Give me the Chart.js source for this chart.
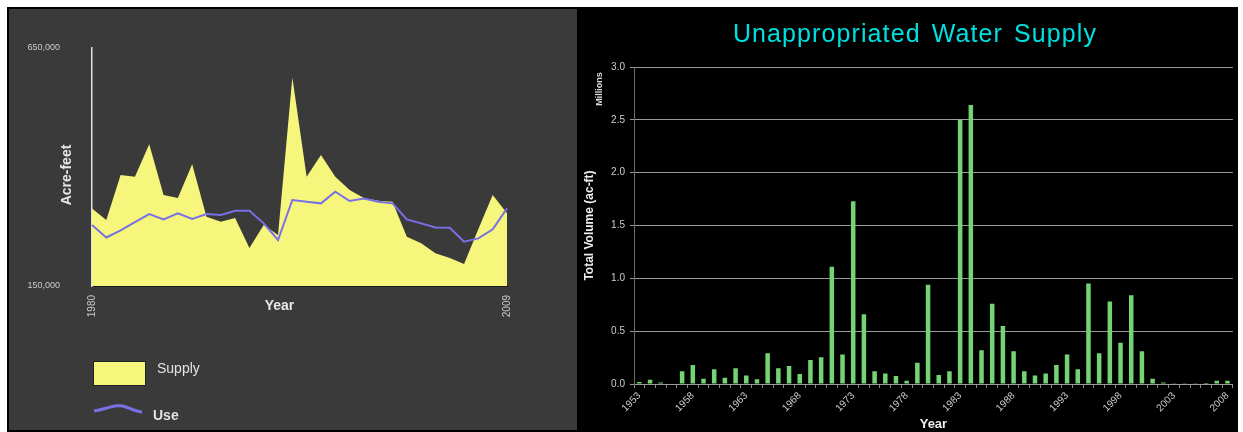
<!DOCTYPE html>
<html>
<head>
<meta charset="utf-8">
<script src="https://cdn.jsdelivr.net/npm/chart.js@4.4.1/dist/chart.umd.min.js"></script>
<style>
    body { margin: 0; background: #fff; width: 1243px; height: 432px; overflow: hidden; position: relative; font-family: "Liberation Sans", Arial, sans-serif; }
    #frame { position: absolute; left: 7px; top: 7px; width: 1231px; height: 425px; background: #000; }
    #leftPanel { position: absolute; left: 9px; top: 9px; width: 568px; height: 421px; background: #3a3a3a; }
    #supplyChart { position: absolute; left: 9px; top: 9px; }
    #volumeChart { position: absolute; left: 577px; top: 9px; }
    #volumeTitle { position: absolute; left: 577px; top: 18px; width: 676px; text-align: center; color: #00e0e0; font-size: 25px; line-height: 30px; letter-spacing: 1.1px; word-spacing: 3px; }
    .legendBox { position: absolute; left: 93px; top: 361px; width: 51px; height: 23px; background: #f6f67c; border: 1px solid #222; }
    .legendText { position: absolute; color: #e2e2e2; font-size: 14px; line-height: 16px; }
</style>
</head>
<body>
<div id="frame"></div>
<div id="leftPanel"></div>
<canvas id="supplyChart" width="568" height="421"></canvas>
<canvas id="volumeChart" width="661" height="423"></canvas>
<div id="volumeTitle">Unappropriated Water Supply</div>

<!-- legend of the left chart -->
<div class="legendBox"></div>
<div class="legendText" style="left:157px; top:360px;">Supply</div>
<svg style="position:absolute; left:90px; top:400px;" width="60" height="20">
    <path d="M4 11 C 18 9, 26 3, 36 7 S 48 12, 52 12" stroke="#7a70e6" stroke-width="3" fill="none"/>
</svg>
<div class="legendText" style="left:153px; top:407px; font-weight:bold;">Use</div>

<script>
    // left chart: supply / use, acre-feet
    var years = [1980, 1981, 1982, 1983, 1984, 1985, 1986, 1987, 1988, 1989,
                 1990, 1991, 1992, 1993, 1994, 1995, 1996, 1997, 1998, 1999,
                 2000, 2001, 2002, 2003, 2004, 2005, 2006, 2007, 2008, 2009];
    var supply = [313000, 288600, 383000, 379500, 448000, 341000, 334800, 406000, 295600, 285000,
                  292800, 229800, 278000, 257000, 588000, 379500, 425000, 379500, 351600, 335000,
                  329000, 327000, 253600, 240000, 219000, 208800, 196000, 270000, 341000, 303000];
    var use = [278000, 252000, 267000, 284000, 301000, 290000, 302700, 290700, 301000, 299000,
               308000, 308000, 281600, 246600, 330600, 327000, 323600, 348000, 328500, 334000,
               327000, 323600, 290000, 281600, 273000, 272500, 243000, 250000, 269000, 313000];
    var acreTicks = [150000, 650000];

    // right chart: unappropriated volume, millions of ac-ft
    var volYears = [];
    for (var y = 1953; y <= 2008; y++) volYears.push(y);
    var volume = [0.02, 0.04, 0.015, 0.005, 0.12, 0.18, 0.05, 0.14, 0.06, 0.15,
                  0.08, 0.045, 0.29, 0.15, 0.17, 0.095, 0.227, 0.253, 1.11, 0.28,
                  1.73, 0.66, 0.12, 0.10, 0.075, 0.03, 0.20, 0.94, 0.085, 0.12,
                  2.5, 2.64, 0.32, 0.76, 0.55, 0.31, 0.12, 0.08, 0.10, 0.18,
                  0.28, 0.14, 0.95, 0.29, 0.78, 0.39, 0.84, 0.31, 0.05, 0.015,
                  0.003, 0.003, 0.002, 0.001, 0.03, 0.03];

    var fontFamily = '"Liberation Sans", Arial, sans-serif';
    Chart.defaults.font.family = fontFamily;
    Chart.defaults.animation = false;

    /*
      axis titles of the left chart sit between tick labels and axis,
      so they are drawn by hand
    */
    var supplyTitles = {
        id: 'supplyTitles',
        afterDraw: function(chart) {
            var ctx = chart.ctx, area = chart.chartArea;
            ctx.save();
            ctx.fillStyle = '#e6e6e6';
            ctx.font = 'bold 14px ' + fontFamily;
            ctx.textAlign = 'center';
            ctx.textBaseline = 'middle';
            ctx.fillText('Year', (area.left + area.right) / 2 - 20, area.bottom + 20);
            ctx.translate(area.left - 25, (area.top + area.bottom) / 2 + 8);
            ctx.rotate(-Math.PI / 2);
            ctx.fillText('Acre-feet', 0, 0);
            ctx.restore();
        }
    };

    var millionsLabel = {
        id: 'millionsLabel',
        afterDraw: function(chart) {
            var ctx = chart.ctx, area = chart.chartArea;
            ctx.save();
            ctx.fillStyle = '#dddddd';
            ctx.font = 'bold 9px ' + fontFamily;
            ctx.textAlign = 'center';
            ctx.textBaseline = 'middle';
            ctx.translate(area.left - 34, area.top + 22);
            ctx.rotate(-Math.PI / 2);
            ctx.fillText('Millions', 0, 0);
            ctx.restore();
        }
    };

    new Chart(document.getElementById('supplyChart'), {
        type: 'line',
        data: {
            labels: years,
            datasets: [{
                label: 'Use',
                data: use,
                borderColor: '#7a70e6',
                borderWidth: 2,
                pointRadius: 0,
                fill: false,
                order: 0
            }, {
                label: 'Supply',
                data: supply,
                borderColor: 'rgba(0,0,0,0)',
                borderWidth: 0,
                backgroundColor: '#f6f67c',
                pointRadius: 0,
                fill: 'start',
                order: 1
            }]
        },
        options: {
            responsive: false,
            layout: { padding: { top: 39, right: 70, left: 0, bottom: 0 } },
            plugins: { legend: { display: false }, tooltip: { enabled: false } },
            scales: {
                x: {
                    grid: { display: false, drawTicks: false },
                    border: { display: true, color: '#1e1e1e', width: 2 },
                    afterFit: function(scale) { scale.height = 144; },
                    ticks: {
                        autoSkip: false,
                        minRotation: 90,
                        maxRotation: 90,
                        padding: 9,
                        color: '#cccccc',
                        font: { size: 10 },
                        callback: function(value, index) {
                            return (index === 0 || index === years.length - 1) ? years[index] : '';
                        }
                    }
                },
                y: {
                    min: 150000,
                    max: 650000,
                    z: 1,
                    grid: { display: false, drawTicks: false },
                    border: { display: true, color: '#e0e0e0', width: 1.5 },
                    afterFit: function(scale) { scale.width = 83; },
                    afterBuildTicks: function(scale) {
                        scale.ticks = acreTicks.map(function(v) { return { value: v }; });
                    },
                    ticks: {
                        padding: 32,
                        color: '#cccccc',
                        font: { size: 9 },
                        callback: function(value) { return value.toLocaleString('en-US'); }
                    }
                }
            }
        },
        plugins: [supplyTitles]
    });

    new Chart(document.getElementById('volumeChart'), {
        type: 'bar',
        data: {
            labels: volYears,
            datasets: [{
                label: 'Total Volume',
                data: volume,
                backgroundColor: '#74d474',
                barPercentage: 1,
                categoryPercentage: 0.42
            }]
        },
        options: {
            responsive: false,
            layout: { padding: { top: 58, right: 5, left: 0, bottom: 0 } },
            plugins: { legend: { display: false }, tooltip: { enabled: false } },
            scales: {
                x: {
                    grid: { display: true, drawOnChartArea: false, drawTicks: true, tickLength: 4, color: '#8a8a8a' },
                    border: { display: true, color: '#9a9a9a', width: 1 },
                    afterFit: function(scale) { scale.height = 48; },
                    ticks: {
                        autoSkip: false,
                        minRotation: 45,
                        maxRotation: 45,
                        padding: 2,
                        color: '#cccccc',
                        font: { size: 10 },
                        callback: function(value, index) {
                            return (volYears[index] - 1953) % 5 === 0 ? volYears[index] : '';
                        }
                    },
                    title: {
                        display: true,
                        text: 'Year',
                        color: '#eeeeee',
                        font: { size: 13, weight: 'bold' },
                        padding: { top: 0, bottom: 0 }
                    }
                },
                y: {
                    min: 0,
                    max: 3,
                    grid: { color: '#9a9a9a', lineWidth: 1, tickLength: 4 },
                    border: { display: true, color: '#6a6a6a', width: 1 },
                    afterFit: function(scale) { scale.width = 57; },
                    ticks: {
                        stepSize: 0.5,
                        padding: 5,
                        color: '#cccccc',
                        font: { size: 10 },
                        callback: function(value) { return value.toFixed(1); }
                    },
                    title: {
                        display: true,
                        text: 'Total Volume (ac-ft)',
                        color: '#eeeeee',
                        font: { size: 12, weight: 'bold' },
                        padding: { top: 5, bottom: 0 }
                    }
                }
            }
        },
        plugins: [millionsLabel]
    });
</script>
</body>
</html>
